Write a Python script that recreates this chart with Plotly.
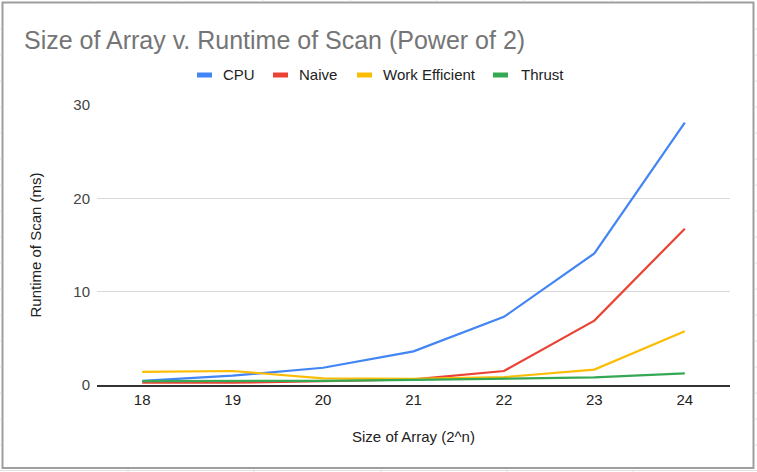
import plotly.graph_objects as go

# ---- data ----
sizes = ["18", "19", "20", "21", "22", "23", "24"]
cpu = [0.45, 1.0, 1.85, 3.6, 7.3, 14.1, 28.1]
naive = [0.25, 0.25, 0.4, 0.6, 1.5, 6.9, 16.75]
work_efficient = [1.4, 1.5, 0.7, 0.65, 0.85, 1.65, 5.75]
thrust = [0.42, 0.42, 0.45, 0.55, 0.7, 0.82, 1.25]

series_names = ["CPU", "Naive", "Work Efficient", "Thrust"]
series_values = [cpu, naive, work_efficient, thrust]
colors = ["#4285F4", "#EA4335", "#FBBC04", "#34A853"]

FONT = "Liberation Sans, Arial, sans-serif"

W, H = 757, 472
L, R, T, B = 97, 27, 105, 87
PW, PH = W - L - R, H - T - B


def px(x):
    return (x - L) / PW


def py(y):
    return (H - B - y) / PH


fig = go.Figure()
for name, vals, col in zip(series_names, series_values, colors):
    fig.add_trace(go.Scatter(x=sizes, y=vals, name=name, mode="lines",
                             line=dict(color=col, width=2.2),
                             showlegend=False))

shapes = []
annotations = []

# custom legend (Google Sheets style short bars)
legend_pos = [(197, 221), (273, 297), (357, 381), (493, 519)]
for (ix, tx), name, col in zip(legend_pos, series_names, colors):
    shapes.append(dict(type="rect", xref="paper", yref="paper",
                       x0=px(ix), x1=px(ix + 15), y0=py(77.5), y1=py(72.5),
                       fillcolor=col, line=dict(width=0)))
    annotations.append(dict(text=name, xref="paper", yref="paper",
                            x=px(tx), y=py(75), xanchor="left", yanchor="middle",
                            showarrow=False,
                            font=dict(family=FONT, size=15, color="#222222")))

# chart border
shapes.append(dict(type="rect", xref="paper", yref="paper",
                   x0=px(2.5), x1=px(753.5), y0=py(468), y1=py(2.5),
                   line=dict(color="#9e9e9e", width=2), fillcolor="rgba(0,0,0,0)",
                   layer="below"))

# spreadsheet grid bits outside the chart box
for gx in [88, 176, 263, 350, 437, 524, 611, 698]:
    shapes.append(dict(type="line", xref="paper", yref="paper",
                       x0=px(gx), x1=px(gx), y0=py(0), y1=py(1.5),
                       line=dict(color="#e0e0e0", width=1)))
for gx in [128, 254, 381, 507, 633]:
    shapes.append(dict(type="line", xref="paper", yref="paper",
                       x0=px(gx), x1=px(gx), y0=py(469.5), y1=py(472),
                       line=dict(color="#e0e0e0", width=1)))
shapes.append(dict(type="line", xref="paper", yref="paper",
                   x0=px(0), x1=px(757), y0=py(470.5), y1=py(470.5),
                   line=dict(color="#e0e0e0", width=1)))
for gy in range(29, 470, 26):
    shapes.append(dict(type="line", xref="paper", yref="paper",
                       x0=px(0), x1=px(1.5), y0=py(gy), y1=py(gy),
                       line=dict(color="#e0e0e0", width=1)))
    shapes.append(dict(type="line", xref="paper", yref="paper",
                       x0=px(755), x1=px(757), y0=py(gy), y1=py(gy),
                       line=dict(color="#e0e0e0", width=1)))

fig.update_layout(
    width=W, height=H,
    margin=dict(l=L, r=R, t=T, b=B, pad=0),
    paper_bgcolor="white", plot_bgcolor="white",
    font=dict(family=FONT, color="#444444"),
    title=dict(text="Size of Array v. Runtime of Scan (Power of 2)",
               xref="container", yref="container",
               x=24 / W, xanchor="left", y=1 - 40 / H, yanchor="middle",
               font=dict(family=FONT, size=25, color="#757575")),
    xaxis=dict(type="category", range=[-0.5, 6.5],
               showgrid=False, showline=True, linecolor="#333333", linewidth=1.5,
               ticks="", tickfont=dict(size=15, color="#222222"),
               title=dict(text="Size of Array (2^n)", standoff=25,
                          font=dict(size=15, color="#222222"))),
    yaxis=dict(range=[0, 30], dtick=10, showgrid=True, gridcolor="#d9d9d9",
               gridwidth=1, zeroline=False, showline=False, ticks="",
               ticklabelstandoff=6,
               tickfont=dict(size=15, color="#444444"),
               title=dict(text="Runtime of Scan (ms)", standoff=28,
                          font=dict(size=15, color="#222222"))),
    shapes=shapes,
    annotations=annotations,
)

fig.write_html("out.html",
               config={"displayModeBar": False},
               post_script="document.body.style.margin='0';document.body.style.overflow='hidden';")
